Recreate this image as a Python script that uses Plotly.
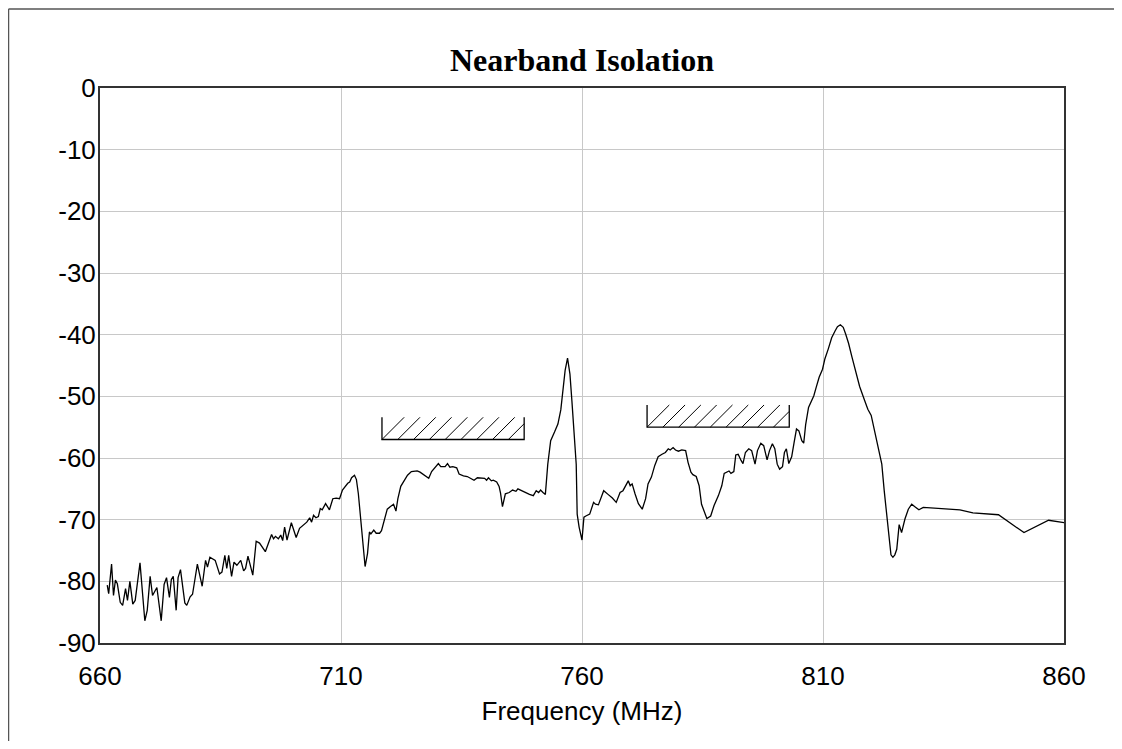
import plotly.graph_objects as go

# ---- data ----
freq_mhz = [
    661.5, 661.8, 662.4, 662.8, 663.2, 663.6, 664.2, 664.7, 665.3, 665.7,
    666.2, 666.8, 667.3, 668.3, 669.3, 669.8, 670.4, 670.9, 671.8, 672.7,
    673.3, 673.8, 674.4, 674.8, 675.2, 675.8, 676.2, 676.7, 677.6, 678.0,
    678.7, 679.2, 680.2, 681.2, 681.9, 682.3, 682.8, 683.9, 684.8, 685.3,
    685.9, 686.3, 686.7, 687.3, 687.8, 688.4, 689.2, 689.8, 690.2, 690.7,
    691.7, 692.4, 693.1, 694.3, 695.6, 696.0, 696.4, 697.0, 697.5, 697.9,
    698.3, 698.8, 699.7, 700.7, 701.4, 702.9, 703.5, 703.9, 704.3, 704.8,
    705.3, 705.7, 706.1, 706.8, 707.6, 708.3, 709.0, 709.7, 710.3, 710.8,
    711.4, 711.8, 712.2, 712.8, 713.2, 713.6, 714.2, 715.0, 715.5, 715.9,
    716.2, 716.8, 717.3, 718.0, 718.4, 719.0, 719.6, 720.2, 720.9, 721.4,
    721.8, 722.4, 723.1, 723.8, 724.6, 725.8, 726.4, 727.5, 728.2, 728.8,
    729.5, 730.2, 730.7, 731.6, 732.1, 732.6, 733.2, 734.0, 734.5, 735.4,
    736.2, 737.0, 737.6, 738.3, 739.1, 739.8, 740.2, 740.6, 741.2, 741.6,
    742.3, 742.8, 743.1, 743.5, 744.1, 744.9, 745.6, 746.3, 746.7, 747.5,
    748.2, 749.1, 749.9, 750.5, 751.0, 751.4, 751.9, 752.4, 752.9, 753.5,
    754.3, 755.0, 755.6, 756.1, 756.5, 757.0, 757.5, 757.9, 758.3, 758.8,
    759.0, 759.4, 760.0, 760.4, 760.8, 761.6, 762.4, 762.8, 763.4, 764.5,
    765.4, 766.3, 767.1, 767.9, 768.5, 769.0, 769.6, 770.0, 770.4, 771.0,
    771.7, 772.5, 773.2, 773.7, 774.4, 775.1, 775.8, 776.6, 777.3, 777.9,
    778.3, 778.9, 779.4, 780.0, 780.7, 781.5, 782.0, 782.6, 783.0, 783.7,
    784.3, 784.8, 785.4, 785.9, 786.7, 787.4, 788.3, 789.0, 789.5, 790.1,
    790.5, 790.9, 791.5, 791.9, 792.4, 793.0, 793.4, 793.9, 794.6, 795.2,
    795.9, 796.4, 797.1, 797.7, 798.4, 798.9, 799.5, 800.0, 800.5, 801.0,
    801.6, 802.0, 802.4, 802.9, 803.5, 804.0, 804.5, 805.0, 805.6, 806.0,
    806.4, 807.0, 807.5, 808.1, 808.6, 809.2, 809.9, 810.4, 811.1, 811.8,
    812.5, 813.0, 813.6, 814.2, 814.7, 815.3, 816.0, 816.8, 817.6, 818.6,
    819.3, 820.0, 820.8, 821.8, 822.2, 822.7, 823.3, 823.7, 824.1, 824.5,
    824.9, 825.3, 825.8, 826.3, 827.0, 827.7, 828.4, 829.2, 829.9, 830.8,
    833.5, 836.3, 838.4, 841.1, 843.9, 846.4, 851.7, 856.8, 861.9,
]

isolation_db = [
    -80.6, -82.0, -77.2, -82.3, -79.8, -80.4, -83.4, -83.9, -81.2, -83.1,
    -80.0, -83.7, -83.1, -77.0, -86.4, -84.7, -79.2, -82.3, -81.0, -86.4,
    -80.5, -79.4, -82.6, -79.7, -79.2, -84.7, -79.4, -78.1, -83.5, -83.9,
    -82.5, -82.1, -77.2, -80.8, -76.6, -77.7, -76.1, -76.6, -78.8, -78.5,
    -75.8, -77.9, -75.8, -79.2, -76.9, -77.4, -76.6, -78.3, -77.9, -75.9,
    -79.0, -73.5, -73.8, -75.2, -72.4, -73.1, -72.7, -73.1, -72.5, -73.4,
    -71.2, -73.3, -70.5, -72.9, -71.4, -70.4, -69.7, -70.4, -69.3, -69.7,
    -69.5, -68.2, -68.4, -67.4, -68.4, -66.6, -66.5, -66.6, -65.2, -64.6,
    -64.1, -63.9, -63.2, -62.8, -63.5, -65.8, -70.6, -77.6, -75.5, -72.0,
    -72.3, -71.7, -72.2, -72.2, -71.8, -69.9, -68.3, -67.9, -67.5, -68.6,
    -66.6, -64.6, -63.7, -62.8, -62.2, -62.1, -62.3, -63.0, -63.3, -62.2,
    -61.6, -60.9, -61.4, -61.4, -60.9, -61.5, -61.4, -61.6, -62.6, -62.9,
    -63.0, -63.4, -63.6, -63.2, -63.2, -63.3, -63.6, -63.2, -63.7, -63.6,
    -63.9, -64.6, -65.7, -67.9, -65.8, -65.6, -65.2, -65.4, -65.0, -65.3,
    -65.6, -65.9, -66.1, -65.3, -65.6, -65.2, -65.6, -65.9, -61.0, -57.2,
    -55.8, -54.5, -52.2, -49.1, -45.8, -43.8, -46.4, -50.7, -55.6, -61.0,
    -69.1, -71.2, -73.3, -69.6, -69.4, -69.1, -67.2, -67.5, -67.6, -65.3,
    -65.9, -66.5, -67.2, -65.6, -65.3, -64.6, -63.7, -64.5, -64.2, -65.8,
    -67.4, -68.3, -66.6, -64.2, -63.1, -61.2, -59.8, -59.4, -59.1, -58.5,
    -58.7, -58.3, -58.7, -58.9, -58.7, -58.8, -60.7, -62.3, -62.7, -63.0,
    -64.5, -67.5, -68.8, -69.8, -69.4, -67.7, -66.1, -64.5, -62.5, -62.3,
    -62.1, -62.5, -62.2, -59.5, -59.4, -60.4, -60.9, -59.1, -58.5, -58.8,
    -61.0, -58.8, -57.6, -58.0, -60.3, -58.8, -57.7, -58.5, -61.0, -61.8,
    -61.4, -59.1, -58.5, -60.9, -59.8, -57.5, -55.3, -55.6, -57.2, -57.6,
    -54.6, -51.8, -51.0, -49.9, -48.5, -46.9, -45.6, -43.9, -42.3, -40.5,
    -39.4, -38.7, -38.4, -38.8, -39.9, -41.4, -43.6, -45.9, -48.4, -50.6,
    -52.1, -53.1, -56.1, -59.4, -61.0, -65.3, -69.6, -73.4, -75.7, -76.1,
    -75.7, -74.8, -70.8, -72.1, -69.9, -68.3, -67.5, -68.0, -68.4, -68.0,
    -68.1, -68.2, -68.4, -68.9, -69.0, -69.2, -72.1, -70.1, -70.7,
]

# limit (mask) bands: start freq, stop freq, limit level, hatch top
mask_start = [718.5, 773.5]
mask_stop = [748.0, 803.0]
mask_limit = [-57.0, -55.0]
mask_top = [-53.4, -51.4]

x_ticks = [660, 710, 760, 810, 860]
y_ticks = [0, -10, -20, -30, -40, -50, -60, -70, -80, -90]

# figure geometry (page has an 8px body margin)
FIG_W, FIG_H = 1106, 733
M_L, M_R, M_T, M_B = 92, 50, 80, 98
PLOT_W = FIG_W - M_L - M_R
PLOT_H = FIG_H - M_T - M_B

fig = go.Figure()
fig.add_trace(go.Scatter(
    x=freq_mhz, y=isolation_db, mode="lines",
    line=dict(color="#000000", width=1.3), showlegend=False,
    hoverinfo="x+y",
))

shapes = []
# slope for a 45-degree hatch in screen pixels (MHz per dB)
px_per_mhz = PLOT_W / 200.0
px_per_db = PLOT_H / 90.0
mhz_per_db = px_per_db / px_per_mhz
n_hatch = 9
for f0, f1, lo, hi in zip(mask_start, mask_stop, mask_limit, mask_top):
    shapes.append(dict(type="path", xref="x", yref="y",
                       path=f"M {f0},{hi} L {f0},{lo} L {f1},{lo} L {f1},{hi}",
                       line=dict(color="#000000", width=1.3)))
    h = hi - lo
    step = (f1 - f0) / n_hatch
    for k in range(n_hatch):
        xs = f0 + k * step
        xe = xs + h * mhz_per_db
        ye = hi
        if xe > f1:
            ye = lo + (f1 - xs) / mhz_per_db
            xe = f1
        shapes.append(dict(type="line", xref="x", yref="y",
                           x0=xs, y0=lo, x1=xe, y1=ye,
                           line=dict(color="#000000", width=1)))

# outer frame of the picture: top and left edges only
frame_left = (0.5 - M_L) / PLOT_W
frame_top = (PLOT_H + M_T - 1.0) / PLOT_H
shapes.append(dict(type="line", xref="paper", yref="paper",
                   x0=frame_left, x1=1.2, y0=frame_top, y1=frame_top,
                   line=dict(color="#555555", width=1.5), layer="below"))
shapes.append(dict(type="line", xref="paper", yref="paper",
                   x0=frame_left, x1=frame_left, y0=-0.3, y1=frame_top,
                   line=dict(color="#555555", width=1.5), layer="below"))

fig.update_layout(
    width=FIG_W, height=FIG_H,
    margin=dict(l=M_L, r=M_R, t=M_T, b=M_B, pad=0),
    paper_bgcolor="white", plot_bgcolor="white",
    title=dict(text="<b>Nearband Isolation</b>", x=0.5, xref="paper",
               y=1 - 52 / FIG_H, yref="container", yanchor="middle", xanchor="center",
               font=dict(family="Liberation Serif", size=32, color="#000000")),
    xaxis=dict(range=[660, 860], tickvals=x_ticks, ticktext=[str(t) for t in x_ticks],
               showgrid=True, gridcolor="#c8c8c8", gridwidth=1, zeroline=False,
               showline=True, mirror=True, linecolor="#333333", linewidth=2,
               ticks="", ticklabelstandoff=9,
               tickfont=dict(family="Liberation Sans", size=26, color="#000000"),
               title=dict(text="Frequency (MHz)", standoff=12,
                          font=dict(family="Liberation Sans", size=26, color="#000000"))),
    yaxis=dict(range=[-90, 0], tickvals=y_ticks, ticktext=[str(t) for t in y_ticks],
               showgrid=True, gridcolor="#c8c8c8", gridwidth=1, zeroline=False,
               showline=True, mirror=True, linecolor="#333333", linewidth=2,
               ticks="", ticklabelstandoff=-3,
               tickfont=dict(family="Liberation Sans", size=26, color="#000000")),
    shapes=shapes,
    font=dict(family="Liberation Sans", color="#000000"),
)

fig.write_html("out.html")
